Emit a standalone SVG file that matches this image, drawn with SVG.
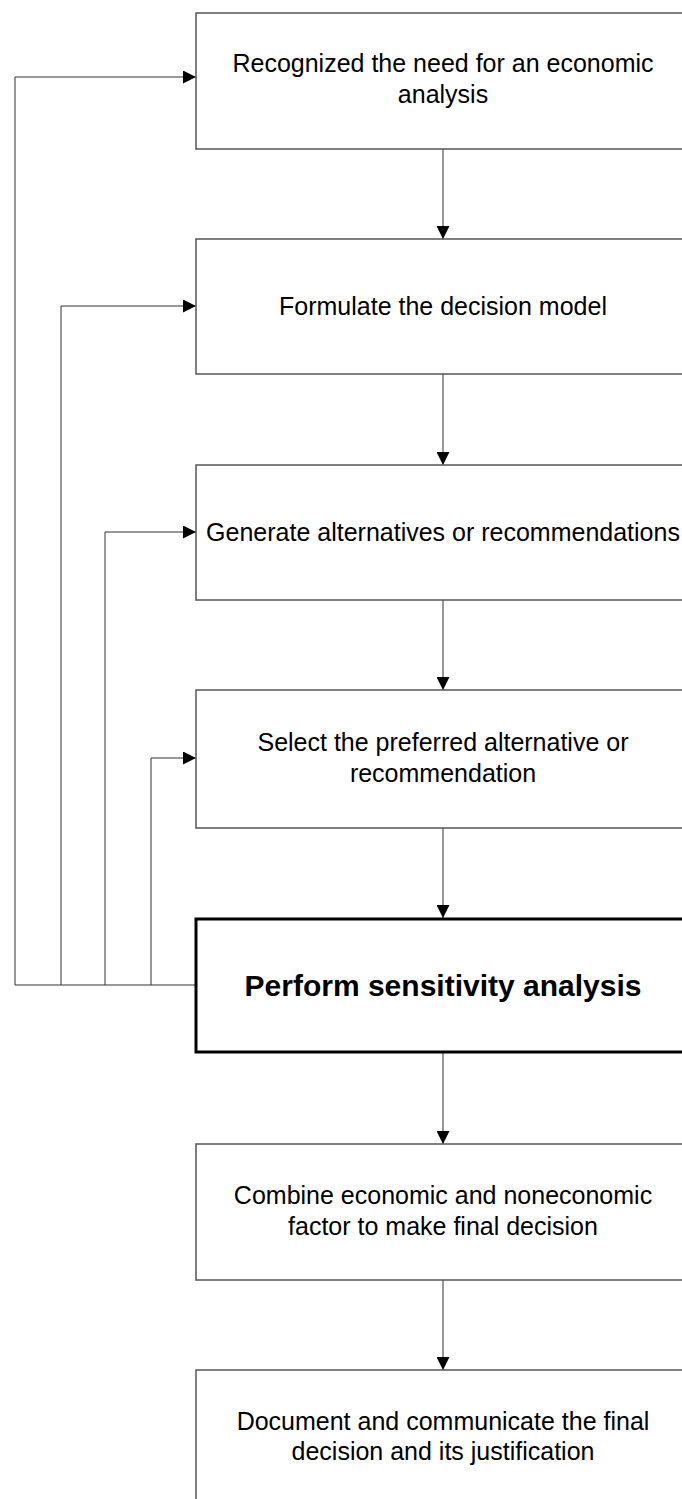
<svg xmlns="http://www.w3.org/2000/svg" width="682" height="1499" viewBox="0 0 682 1499">
<style>
.box{fill:#fff;stroke:#555;stroke-width:1.5}
.bold{fill:#fff;stroke:#000;stroke-width:3}
.t{font-family:"Liberation Sans",Arial,sans-serif;font-size:25px;fill:#000;text-anchor:middle}
.tb{font-family:"Liberation Sans",Arial,sans-serif;font-size:30px;font-weight:bold;fill:#000;text-anchor:middle}
.c{fill:none;stroke:#333;stroke-width:1}
</style>
<defs>
<marker id="ah" viewBox="0 0 10 10" refX="10" refY="5" markerWidth="13" markerHeight="13" markerUnits="userSpaceOnUse" orient="auto">
<path d="M0,0 L10,5 L0,10 z" fill="#000"/>
</marker>
</defs>
<rect width="682" height="1499" fill="#fff"/>
<g id="connectors">
<line class="c" x1="443" y1="149" x2="443" y2="239" marker-end="url(#ah)"/>
<line class="c" x1="443" y1="374" x2="443" y2="465" marker-end="url(#ah)"/>
<line class="c" x1="443" y1="600" x2="443" y2="690" marker-end="url(#ah)"/>
<line class="c" x1="443" y1="828" x2="443" y2="918" marker-end="url(#ah)"/>
<line class="c" x1="443" y1="1053" x2="443" y2="1144" marker-end="url(#ah)"/>
<line class="c" x1="443" y1="1280" x2="443" y2="1370" marker-end="url(#ah)"/>
<polyline class="c" points="196,985 15,985 15,77 196,77" marker-end="url(#ah)"/>
<polyline class="c" points="61,985 61,306 196,306" marker-end="url(#ah)"/>
<polyline class="c" points="105,985 105,532 196,532" marker-end="url(#ah)"/>
<polyline class="c" points="151,985 151,758 196,758" marker-end="url(#ah)"/>
</g>
<g id="n1">
<rect class="box" x="196" y="13" width="494" height="136"/>
<text class="t" x="443" y="72">Recognized the need for an economic</text>
<text class="t" x="443" y="103">analysis</text>
</g>
<g id="n2">
<rect class="box" x="196" y="239" width="494" height="135"/>
<text class="t" x="443" y="315">Formulate the decision model</text>
</g>
<g id="n3">
<rect class="box" x="196" y="465" width="494" height="135"/>
<text class="t" x="443" y="541">Generate alternatives or recommendations</text>
</g>
<g id="n4">
<rect class="box" x="196" y="690" width="494" height="138"/>
<text class="t" x="443" y="751">Select the preferred alternative or</text>
<text class="t" x="443" y="782">recommendation</text>
</g>
<g id="n5">
<rect class="bold" x="196" y="919" width="494" height="133"/>
<text class="tb" x="443" y="996">Perform sensitivity analysis</text>
</g>
<g id="n6">
<rect class="box" x="196" y="1144" width="494" height="136"/>
<text class="t" x="443" y="1204">Combine economic and noneconomic</text>
<text class="t" x="443" y="1235">factor to make final decision</text>
</g>
<g id="n7">
<rect class="box" x="196" y="1370" width="494" height="140"/>
<text class="t" x="443" y="1430">Document and communicate the final</text>
<text class="t" x="443" y="1460">decision and its justification</text>
</g>
</svg>
